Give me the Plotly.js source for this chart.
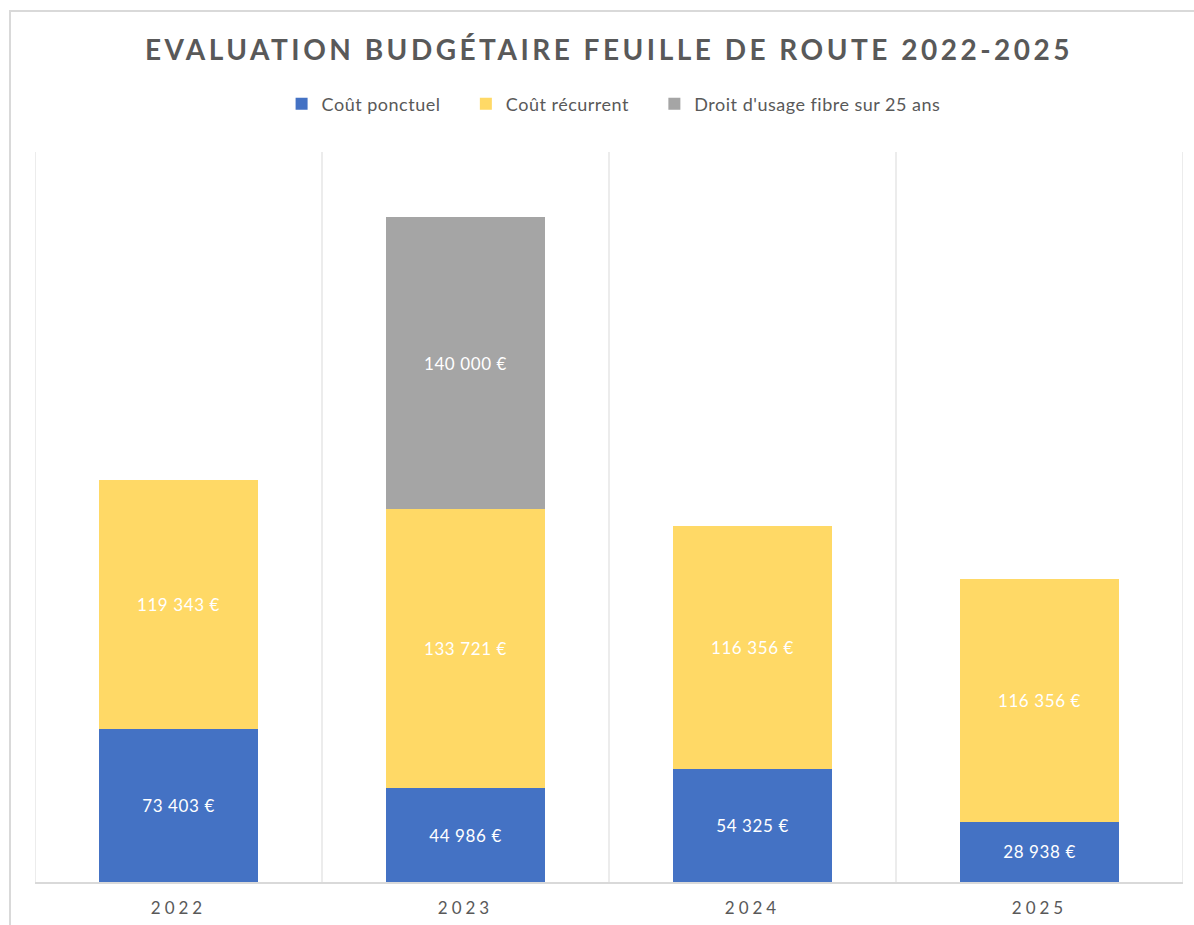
<!DOCTYPE html>
<html>
<head>
<meta charset="utf-8">
<script src="https://cdn.plot.ly/plotly-3.0.1.min.js"></script>
<style>
  html, body { margin: 0; padding: 0; background: #fff; overflow: hidden; }
  #chart { position: absolute; left: 0; top: 0; width: 1194px; height: 925px; }
  #frame { position: absolute; left: 9px; top: 10px; width: 1300px; height: 1000px; border-top: 2px solid #d9d9d9; border-left: 2px solid #d9d9d9; pointer-events: none; }
  .gtitle { letter-spacing: 3.5px; }
  .xtick text { letter-spacing: 4px; }
  .legendtext { letter-spacing: 0.5px; }
  .bartext { letter-spacing: 0.6px; }
</style>
</head>
<body>
<div id="chart"></div>
<div id="frame"></div>
<script>
const years = ["2022", "2023", "2024", "2025"];
const coutPonctuel = [73403, 44986, 54325, 28938];
const coutRecurrent = [119343, 133721, 116356, 116356];
const droitUsage = [null, 140000, null, null];
const seriesNames = ["Coût ponctuel", "Coût récurrent", "Droit d'usage fibre sur 25 ans"];
const seriesColors = ["#4472C4", "#FFD966", "#A5A5A5"];

function fmt(v) {
  if (v === null || v === undefined) return "";
  return String(Math.round(v)).replace(/\B(?=(\d{3})+(?!\d))/g, " ") + " €";
}

const legendPad = "\u00a0\u00a0\u00a0\u00a0";
const allSeries = [coutPonctuel, coutRecurrent, droitUsage];
const traces = allSeries.map((vals, i) => ({
  type: "bar",
  name: seriesNames[i] + (i < allSeries.length - 1 ? legendPad : ""),
  x: years,
  y: vals,
  text: vals.map(fmt),
  textposition: "inside",
  insidetextanchor: "middle",
  textangle: 0,
  insidetextfont: { family: "Lato, 'Open Sans', sans-serif", size: 17, color: "#ffffff" },
  hoverinfo: "skip",
  marker: { color: seriesColors[i], line: { width: 0 } }
}));

const shapes = [];
for (let k = 0; k <= years.length; k++) {
  shapes.push({
    type: "line", xref: "x", yref: "paper",
    x0: k - 0.5, x1: k - 0.5, y0: 0, y1: 1,
    line: { color: "#d9d9d9", width: 1 }, layer: "below"
  });
}

const layout = {
  width: 1194, height: 925,
  margin: { l: 35, r: 11, t: 152, b: 43 },
  paper_bgcolor: "#ffffff",
  plot_bgcolor: "#ffffff",
  barmode: "stack",
  bargap: 0.443,
  font: { family: "Lato, 'Open Sans', sans-serif", color: "#595959" },
  title: {
    text: "<b>EVALUATION BUDGÉTAIRE FEUILLE DE ROUTE 2022-2025</b>",
    font: { family: "Lato, 'Open Sans', sans-serif", size: 28, color: "#595959" },
    x: 0.5, xref: "paper", xanchor: "center",
    y: 1 - 50 / 925, yref: "container", yanchor: "middle"
  },
  showlegend: true,
  legend: {
    orientation: "h",
    x: 0.504, xanchor: "center",
    y: 1 + (152 - 104) / 730, yanchor: "middle",
    font: { family: "Lato, 'Open Sans', sans-serif", size: 18, color: "#595959" },
    traceorder: "normal",
    itemwidth: 30
  },
  xaxis: {
    type: "category",
    range: [-0.5, years.length - 0.5],
    showline: true, linecolor: "#d9d9d9", linewidth: 2,
    showgrid: false, ticks: "",
    ticklabelstandoff: 10,
    tickfont: { family: "Lato, 'Open Sans', sans-serif", size: 17, color: "#595959" },
    fixedrange: true
  },
  yaxis: {
    visible: false,
    range: [0, 350000],
    fixedrange: true
  },
  shapes: shapes
};

Plotly.newPlot("chart", traces, layout, { displayModeBar: false, staticPlot: true });
</script>
</body>
</html>
